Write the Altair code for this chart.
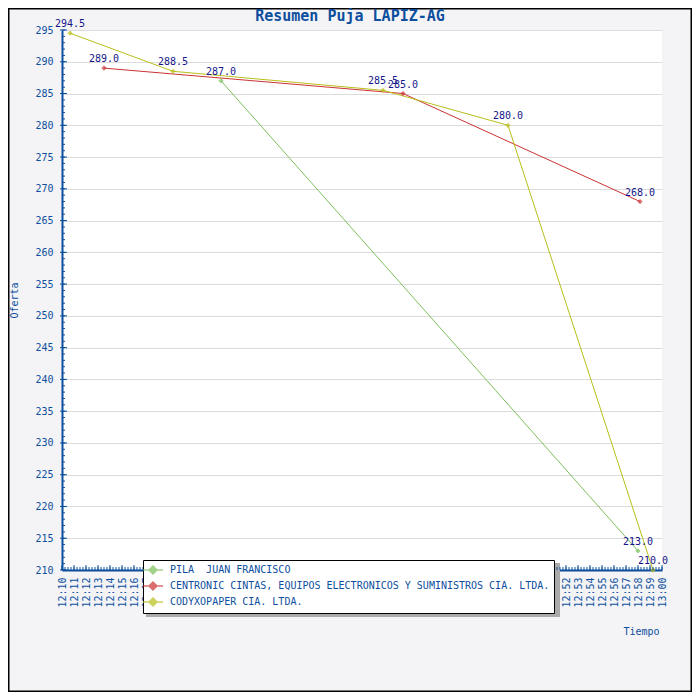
import altair as alt
import pandas as pd

# ---- data ----
series_names = [
    "PILA\u00a0 JUAN FRANCISCO",
    "CENTRONIC CINTAS, EQUIPOS ELECTRONICOS Y SUMINISTROS CIA. LTDA.",
    "CODYXOPAPER CIA. LTDA.",
]
series_colors = ["#7cbf5c", "#cc3333", "#b8bf1a"]

pila_times = ["12:23:15", "12:58:00"]
pila_values = [287.0, 213.0]
centronic_times = ["12:13:30", "12:38:25", "12:58:10"]
centronic_values = [289.0, 285.0, 268.0]
cody_times = ["12:10:40", "12:19:15", "12:36:45", "12:47:10", "12:59:15"]
cody_values = [294.5, 288.5, 285.5, 280.0, 210.0]

day = "2024-01-01"
x_start = "12:10:00"
x_end = "13:00:00"
y_min, y_max, y_step = 210, 295, 5

title_text = "Resumen Puja LAPIZ-AG"
x_title = "Tiempo"
y_title = "Oferta"

# ---- build tables ----
rows = []
for name, times, vals in [
    (series_names[0], pila_times, pila_values),
    (series_names[1], centronic_times, centronic_values),
    (series_names[2], cody_times, cody_values),
]:
    for t, v in zip(times, vals):
        rows.append({"Serie": name, "Tiempo": f"{day}T{t}", "Oferta": v})
df = pd.DataFrame(rows)

major_x = pd.DataFrame({"Tiempo": [d.strftime("%Y-%m-%dT%H:%M:%S") for d in
                                   pd.date_range(f"{day} {x_start}", f"{day} {x_end}", freq="1min")]})
minor_x = pd.DataFrame({"Tiempo": [d.strftime("%Y-%m-%dT%H:%M:%S") for d in
                                   pd.date_range(f"{day} {x_start}", f"{day} {x_end}", freq="15s")]})
major_y = pd.DataFrame({"Oferta": list(range(y_min, y_max + 1, y_step))})
minor_y = pd.DataFrame({"Oferta": list(range(y_min, y_max + 1, 1))})
one = pd.DataFrame({"a": [0]})

FONT = "DejaVu Sans Mono"
BLUE = "#0d4f9e"
NAVY = "#16168a"

def dt(s):
    h, m, sec = [int(p) for p in s.split(":")]
    return alt.DateTime(year=2024, month=1, date=1, hours=h, minutes=m, seconds=sec)

minute_values = [dt(d.strftime("%H:%M:%S")) for d in
                 pd.date_range(f"{day} {x_start}", f"{day} {x_end}", freq="1min")]

xscale = alt.Scale(domain=[dt(x_start), dt(x_end)])
yscale = alt.Scale(domain=[y_min, y_max], nice=False, zero=False)

x_axis = alt.Axis(
    format="%H:%M",
    values=minute_values,
    labelAngle=270,
    labelOverlap=False,
    labelPadding=7,
    ticks=False,
    grid=False,
    domainColor=BLUE,
    domainWidth=2,
    labelColor=BLUE,
    labelFont=FONT,
    labelFontSize=10,
    titleColor=BLUE,
    titleFont=FONT,
    titleFontSize=10,
    titleFontWeight="normal",
    titleAlign="right",
    titleBaseline="middle",
    titleX=597,
    titleY=61,
)
y_axis = alt.Axis(
    values=list(range(y_min, y_max + 1, y_step)),
    ticks=False,
    labelPadding=9,
    grid=True,
    gridColor="#dcdcdc",
    domainColor=BLUE,
    domainWidth=2,
    labelColor=BLUE,
    labelFont=FONT,
    labelFontSize=10,
    titleColor=BLUE,
    titleFont=FONT,
    titleFontSize=10,
    titleFontWeight="normal",
    titleAngle=270,
    titleX=-48,
    titleY=270,
    titleAlign="center",
    titleBaseline="middle",
)

def X():
    return alt.X("Tiempo:T", scale=xscale, title=x_title, axis=x_axis)

def Y():
    return alt.Y("Oferta:Q", scale=yscale, title=y_title, axis=y_axis)

cscale = alt.Scale(domain=series_names, range=series_colors)

legend = alt.Legend(
    title=None,
    orient="none",
    legendX=81,
    legendY=530,
    padding=4,
    strokeColor="black",
    fillColor="white",
    labelFont=FONT,
    labelFontSize=10,
    labelColor=BLUE,
    labelLimit=700,
    labelOffset=11,
    rowPadding=2,
    symbolType="M-2,0L2,0M0,-0.8L0.8,0L0,0.8L-0.8,0Z",
    symbolSize=100,
    symbolStrokeWidth=1.5,
)

def C():
    return alt.Color("Serie:N", scale=cscale, legend=legend)

base = alt.Chart(df)

lines = base.mark_line(strokeWidth=1).encode(x=X(), y=Y(), color=C())
points = base.mark_point(filled=True, shape="diamond", size=28).encode(x=X(), y=Y(), color=C())
labels = base.mark_text(font=FONT, fontSize=10, color=NAVY, baseline="bottom", dy=-4).encode(
    x=X(), y=Y(), text=alt.Text("Oferta:Q", format=".1f"),
)

xt_major = alt.Chart(major_x).mark_rule(color=BLUE, strokeWidth=1).encode(
    x=X(), y=alt.value(535), y2=alt.value(540))
xt_minor = alt.Chart(minor_x).mark_rule(color=BLUE, strokeWidth=1).encode(
    x=X(), y=alt.value(537), y2=alt.value(540))
yt_major = alt.Chart(major_y).mark_rule(color=BLUE, strokeWidth=1).encode(
    y=Y(), x=alt.value(-2), x2=alt.value(5))
yt_minor = alt.Chart(minor_y).mark_rule(color=BLUE, strokeWidth=1).encode(
    y=Y(), x=alt.value(0), x2=alt.value(3))

shadow = alt.Chart(one).mark_rect(color="#aaaaaa").encode(
    x=alt.value(84), x2=alt.value(498), y=alt.value(533), y2=alt.value(587))
frame = alt.Chart(one).mark_rect(fillOpacity=0, stroke="black", strokeWidth=3).encode(
    x=alt.value(-54), x2=alt.value(630), y=alt.value(-22), y2=alt.value(662))

chart = alt.layer(
    shadow, lines, points, labels, xt_minor, xt_major, yt_minor, yt_major, frame
).properties(
    width=600,
    height=540,
    padding={"left": 54, "top": 22, "right": 30, "bottom": 122},
    autosize=alt.AutoSizeParams(type="none"),
    title=alt.TitleParams(
        title_text, font=FONT, fontSize=15, fontWeight="bold", color=BLUE,
        anchor="middle", dx=-12, offset=0, dy=17,
    ),
    background="#f4f4f6",
).configure_view(
    fill="white", strokeWidth=0
)

chart.save("out.html", embed_options={"renderer": "svg", "actions": False})
